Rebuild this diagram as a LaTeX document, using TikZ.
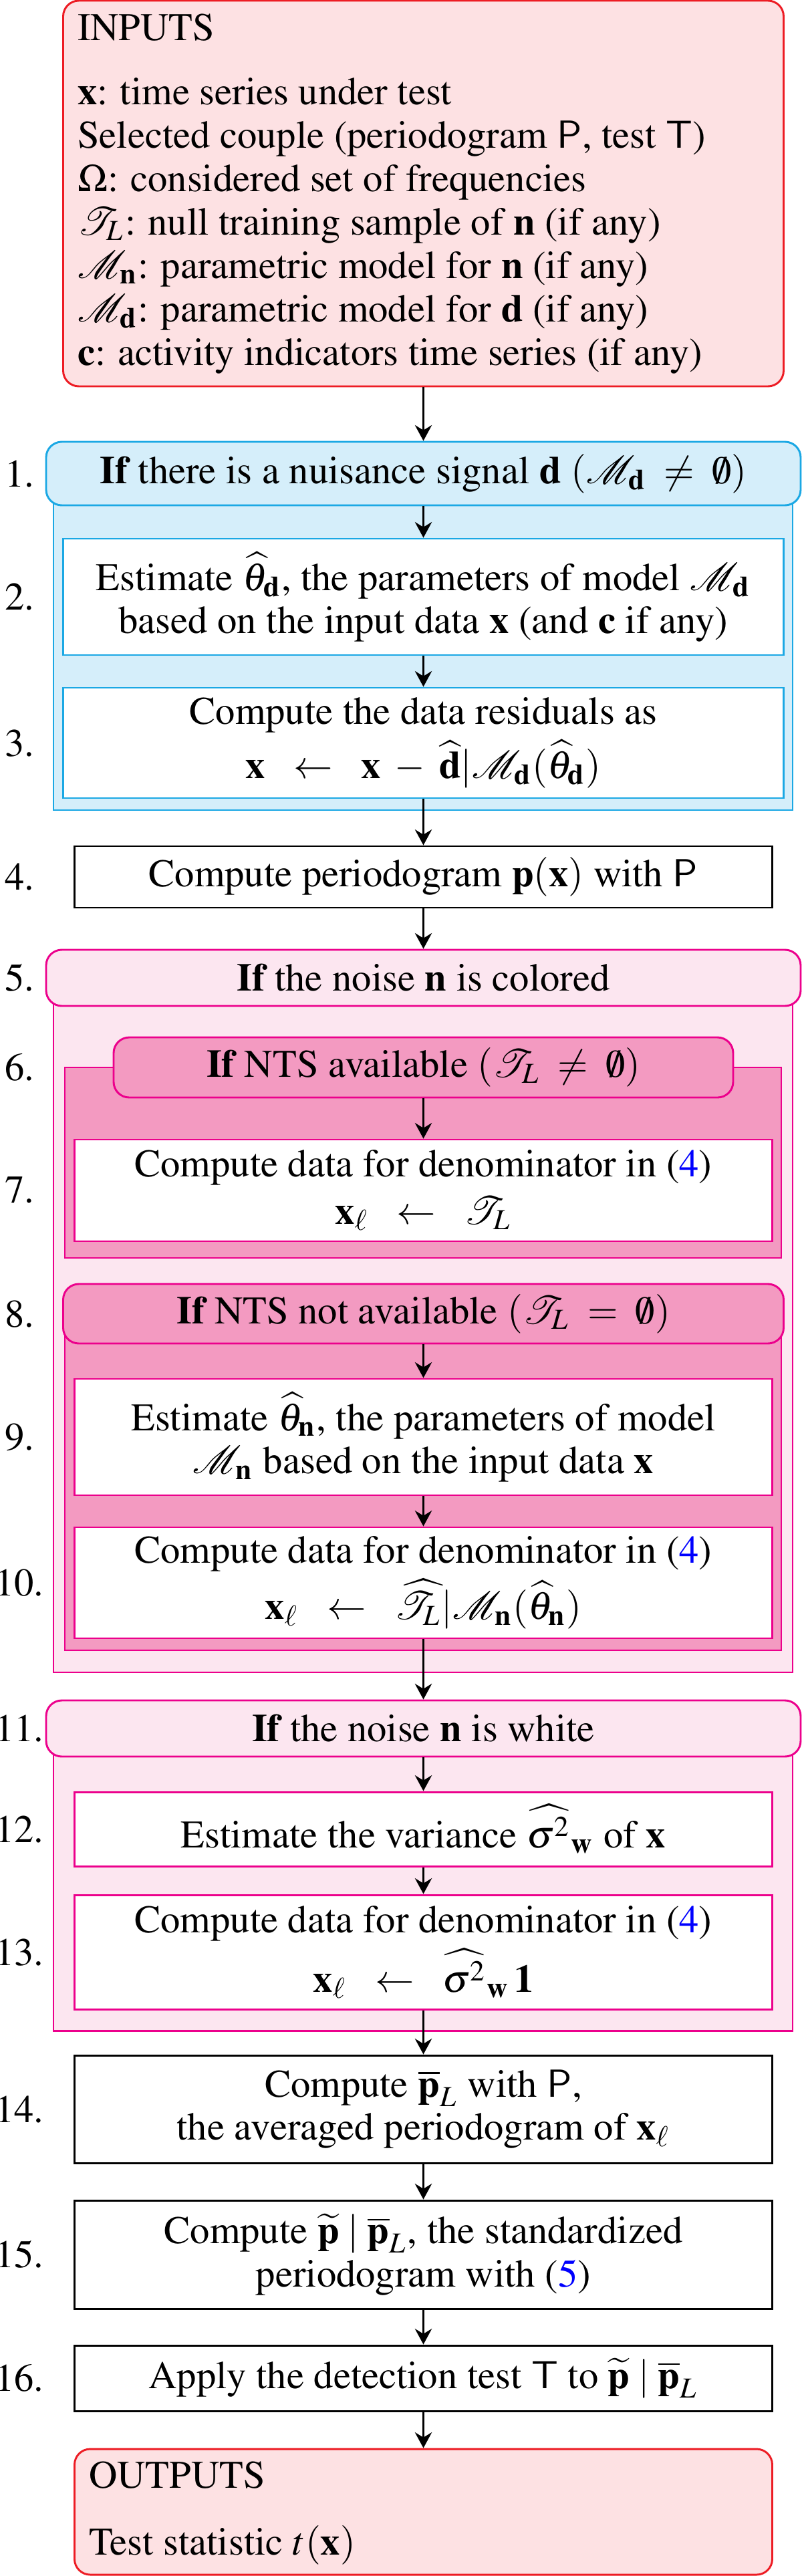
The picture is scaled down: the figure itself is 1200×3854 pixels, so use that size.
\documentclass[tikz,border=0pt]{standalone}
\usepackage[T1]{fontenc}
\usepackage{mathptmx}
\usepackage{xcolor}
\usetikzlibrary{arrows.meta}
\definecolor{redB}{RGB}{237,28,36}
\definecolor{redF}{RGB}{253,225,227}
\definecolor{cyanB}{RGB}{27,168,228}
\definecolor{cyanF}{RGB}{213,238,250}
\definecolor{magB}{RGB}{236,0,140}
\definecolor{magF}{RGB}{252,230,240}
\definecolor{magD}{RGB}{243,154,193}
\newcommand{\PXU}{0.1707pt}
\begin{document}
\begin{tikzpicture}[x=0.1707pt,y=-0.1707pt,
  font=\fontsize{10}{11}\selectfont,
  hdr/.style={draw, rounded corners=4pt, line width=0.5pt, inner sep=0pt, align=center},
  wbox/.style={draw, fill=white, line width=0.5pt, inner sep=0pt, align=center},
  cont/.style={line width=0.5pt},
  num/.style={inner sep=0pt, anchor=center},
  txt/.style={inner sep=0pt, anchor=base west},
  arr/.style={-{Stealth[length=4pt,width=4.3pt,inset=1.3pt]}, line width=0.6pt}]
\useasboundingbox (0,0) rectangle (1200,3854);

% INPUTS
\node[hdr, draw=redB, fill=redF, minimum width=1078*\PXU, minimum height=577*\PXU] (inp) at (633.5,289.5) {};
\node[txt] (i0) at (115,60) {INPUTS};
\node[txt] (i1) at (115,156) {$\mathbf{x}$: time series under test};
\node[txt] (i2) at (115,221) {Selected couple (periodogram $\mathsf{P}$, test $\mathsf{T}$)};
\node[txt] (i3) at (115,286) {$\Omega$: considered set of frequencies};
\node[txt] (i4) at (115,351) {$\mathcal{T}_L$: null training sample of $\mathbf{n}$ (if any)};
\node[txt] (i5) at (115,416) {$\mathcal{M}_\mathbf{n}$: parametric model for $\mathbf{n}$ (if any)};
\node[txt] (i6) at (115,481) {$\mathcal{M}_\mathbf{d}$: parametric model for $\mathbf{d}$ (if any)};
\node[txt] (i7) at (115,546) {$\mathbf{c}$: activity indicators time series (if any)};

% block 1-3
\path[cont, draw=cyanB, fill=cyanF] (80,708) rectangle (1186,1212);
\node[hdr, draw=cyanB, fill=cyanF, minimum width=1129*\PXU, minimum height=95*\PXU] (h1) at (633.5,708.5)
  {\textbf{If} there is a nuisance signal $\mathbf{d}$ $(\mathcal{M}_\mathbf{d}\;\neq\;\emptyset)$};
\node[wbox, draw=cyanB, minimum width=1078*\PXU, minimum height=174*\PXU] (b2) at (633.5,893)
  {Estimate $\widehat{\theta}_\mathbf{d}$, the parameters of model $\mathcal{M}_\mathbf{d}$\\
   based on the input data $\mathbf{x}$ (and $\mathbf{c}$ if any)};
\node[wbox, draw=cyanB, minimum width=1078*\PXU, minimum height=165*\PXU] (b3) at (633.5,1111.5)
  {Compute the data residuals as\\[1pt]
   $\mathbf{x}\enspace\leftarrow\enspace\mathbf{x}\;-\;\widehat{\mathbf{d}}|\mathcal{M}_\mathbf{d}(\widehat{\theta}_\mathbf{d})$};

% block 4
\node[wbox, draw=black, minimum width=1044*\PXU, minimum height=92*\PXU] (b4) at (633.5,1312)
  {Compute periodogram $\mathbf{p}(\mathbf{x})$ with $\mathsf{P}$};

% block 5-10
\path[cont, draw=magB, fill=magF] (80,1463) rectangle (1186,2502);
\node[hdr, draw=magB, fill=magF, minimum width=1129*\PXU, minimum height=84*\PXU] (h5) at (633.5,1463)
  {\textbf{If} the noise $\mathbf{n}$ is colored};
\path[cont, draw=magB, fill=magD] (97,1597) rectangle (1169,1882);
\node[hdr, draw=magB, fill=magD, minimum width=927*\PXU, minimum height=90*\PXU] (h6) at (633.5,1597)
  {\textbf{If} NTS available $(\mathcal{T}_L\;\neq\;\emptyset)$};
\node[wbox, draw=magB, minimum width=1044*\PXU, minimum height=152*\PXU] (b7) at (633.5,1781)
  {Compute data for denominator in ({\color{blue}4})\\[1pt]
   $\mathbf{x}_\ell\enspace\leftarrow\enspace\mathcal{T}_L$};
\path[cont, draw=magB, fill=magD] (97,1965) rectangle (1169,2469);
\node[hdr, draw=magB, fill=magD, minimum width=1078*\PXU, minimum height=89*\PXU] (h8) at (633.5,1965.5)
  {\textbf{If} NTS not available $(\mathcal{T}_L\;=\;\emptyset)$};
\node[wbox, draw=magB, minimum width=1044*\PXU, minimum height=174*\PXU] (b9) at (633.5,2150)
  {Estimate $\widehat{\theta}_\mathbf{n}$, the parameters of model\\
   $\mathcal{M}_\mathbf{n}$ based on the input data $\mathbf{x}$};
\node[wbox, draw=magB, minimum width=1044*\PXU, minimum height=166*\PXU] (b10) at (633.5,2368)
  {Compute data for denominator in ({\color{blue}4})\\[1pt]
   $\mathbf{x}_\ell\enspace\leftarrow\enspace\widehat{\mathcal{T}}_L|\mathcal{M}_\mathbf{n}(\widehat{\theta}_\mathbf{n})$};

% block 11-13
\path[cont, draw=magB, fill=magF] (80,2586) rectangle (1186,3038);
\node[hdr, draw=magB, fill=magF, minimum width=1129*\PXU, minimum height=84*\PXU] (h11) at (633.5,2586)
  {\textbf{If} the noise $\mathbf{n}$ is white};
\node[wbox, draw=magB, minimum width=1044*\PXU, minimum height=111*\PXU] (b12) at (633.5,2736.5)
  {Estimate the variance $\widehat{\sigma^2}_\mathbf{w}$ of $\mathbf{x}$};
\node[wbox, draw=magB, minimum width=1044*\PXU, minimum height=171*\PXU] (b13) at (633.5,2920.5)
  {Compute data for denominator in ({\color{blue}4})\\[1pt]
   $\mathbf{x}_\ell\enspace\leftarrow\enspace\widehat{\sigma^2}_\mathbf{w}\,\mathbf{1}$};

% blocks 14-16
\node[wbox, draw=black, minimum width=1044*\PXU, minimum height=161*\PXU] (b14) at (633.5,3155.5)
  {Compute $\overline{\mathbf{p}}_L$ with $\mathsf{P}$,\\
   the averaged periodogram of $\mathbf{x}_\ell$};
\node[wbox, draw=black, minimum width=1044*\PXU, minimum height=162*\PXU] (b15) at (633.5,3373)
  {Compute $\widetilde{\mathbf{p}}\mid\overline{\mathbf{p}}_L$, the standardized\\
   periodogram with ({\color{blue}5})};
\node[wbox, draw=black, minimum width=1044*\PXU, minimum height=98*\PXU] (b16) at (633.5,3558)
  {Apply the detection test $\mathsf{T}$ to $\widetilde{\mathbf{p}}\mid\overline{\mathbf{p}}_L$};

% OUTPUTS
\node[hdr, draw=redB, fill=redF, minimum width=1044*\PXU, minimum height=188*\PXU] (out) at (633.5,3758) {};
\node[txt] (o0) at (132,3722) {OUTPUTS};
\node[txt] (o1) at (132,3822) {Test statistic $t(\mathbf{x})$};

% numbers
\node[num] (n1) at (29,708.5) {1.};
\node[num] (n2) at (29,893) {2.};
\node[num] (n3) at (29,1111.5) {3.};
\node[num] (n4) at (29,1312) {4.};
\node[num] (n5) at (29,1463) {5.};
\node[num] (n6) at (29,1597) {6.};
\node[num] (n7) at (29,1781) {7.};
\node[num] (n8) at (29,1965.5) {8.};
\node[num] (n9) at (29,2150) {9.};
\node[num] (n10) at (29,2368) {10.};
\node[num] (n11) at (29,2586) {11.};
\node[num] (n12) at (29,2736.5) {12.};
\node[num] (n13) at (29,2920.5) {13.};
\node[num] (n14) at (29,3155.5) {14.};
\node[num] (n15) at (29,3373) {15.};
\node[num] (n16) at (29,3558) {16.};

% arrows
\draw[arr] (inp) -- (h1);
\draw[arr] (h1) -- (b2);
\draw[arr] (b2) -- (b3);
\draw[arr] (b3) -- (b4);
\draw[arr] (b4) -- (h5);
\draw[arr] (h6) -- (b7);
\draw[arr] (h8) -- (b9);
\draw[arr] (b9) -- (b10);
\draw[arr] (b10) -- (h11);
\draw[arr] (h11) -- (b12);
\draw[arr] (b12) -- (b13);
\draw[arr] (b13) -- (b14);
\draw[arr] (b14) -- (b15);
\draw[arr] (b15) -- (b16);
\draw[arr] (b16) -- (out);
\end{tikzpicture}
\end{document}
